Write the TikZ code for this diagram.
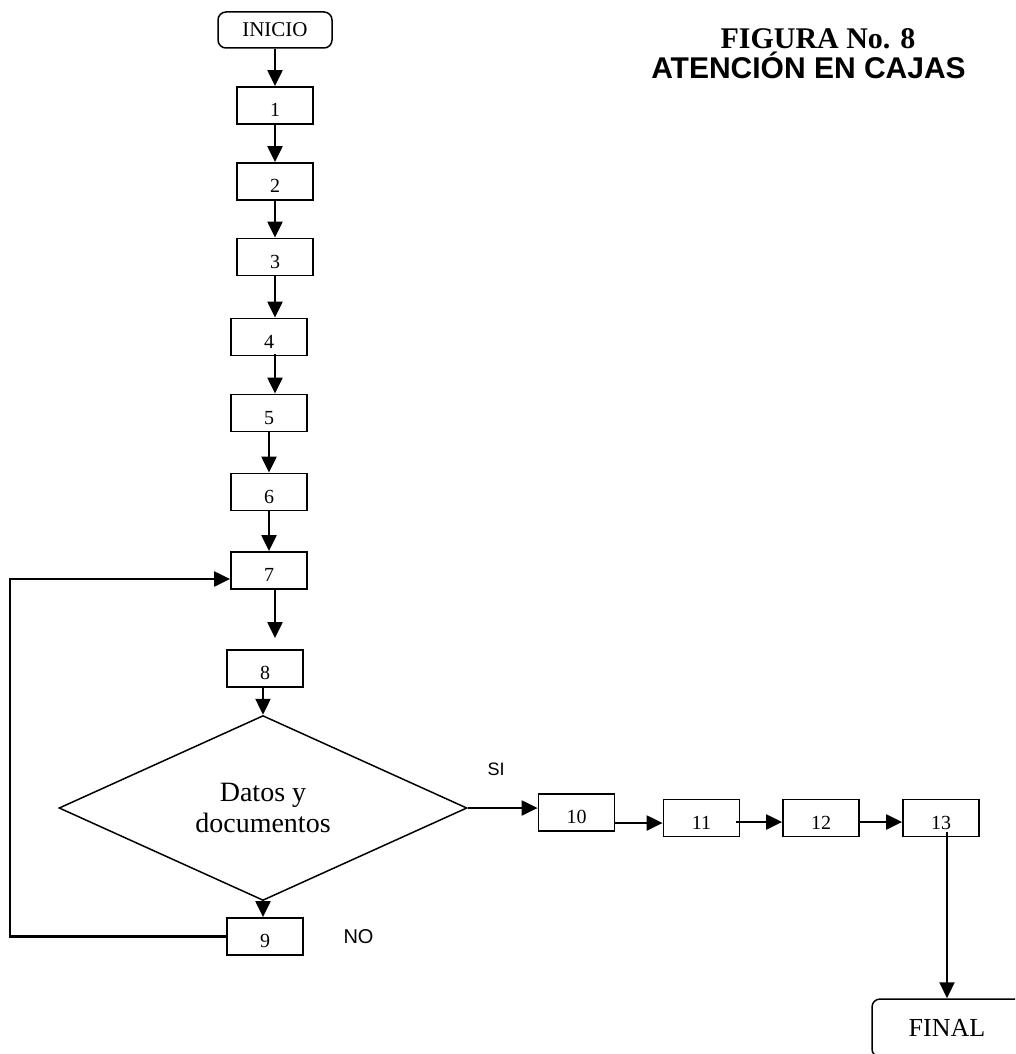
\documentclass[tikz,border=0pt]{standalone}
\usepackage{fontspec}
\setmainfont{Liberation Serif}
\newfontfamily\arial{Liberation Sans}
\usetikzlibrary{arrows.meta,shapes.geometric}

\tikzset{
  caja/.style={draw, line width=1.8pt, minimum width=76pt, minimum height=37pt,
    inner sep=0pt, font=\fontsize{20}{24}\selectfont, text height=22pt, text depth=0pt},
  terminal/.style={draw, line width=1.5pt, rounded corners=8pt, inner sep=0pt},
  decision/.style={draw, diamond, line width=1.5pt, minimum width=408pt,
    minimum height=144pt, inner sep=0pt, align=center, font=\fontsize{28}{31}\selectfont},
  flecha/.style={->, line width=2.2pt},
}

\begin{document}
\begin{tikzpicture}[x=1pt, y=-1pt, >={Triangle[length=16pt,width=15pt]}]
  \useasboundingbox (0,0) rectangle (1015,1054);
  \clip (0,0) rectangle (1015,1054);

  % titulo
  \node[anchor=base, font=\fontsize{30}{36}\selectfont\bfseries] (fig) at (818,49) {FIGURA No. 8};
  \node[anchor=base, font=\arial\fontsize{30}{36}\selectfont\bfseries] (tit) at (808.5,79) {ATENCIÓN EN CAJAS};

  \node[terminal, minimum width=114pt, minimum height=36pt, font=\fontsize{21}{25}\selectfont] (ini) at (275,30) {INICIO};
  \node[terminal, minimum width=150pt, minimum height=58pt, font=\fontsize{26}{30}\selectfont] (fin) at (947,1028) {FINAL};
  \node[decision] (dec) at (263,808) {Datos y\\documentos};

  \foreach \n/\x/\y in
  {
    1/275/105.5, 2/275/181.5, 3/275/257,
    4/269/337, 5/269/413, 6/269/492, 7/269/570.5,
    8/265/668.5, 9/265/936.5,
    10/576.5/812.5, 11/701.5/818, 12/821/818, 13/941/818%
  }
  {
    \node[caja] (b\n) at (\x,\y) {\n};
  }

  \node[anchor=base, font=\arial\fontsize{18}{22}\selectfont] (si) at (496,775) {SI};
  \node[anchor=base, font=\arial\fontsize{20}{24}\selectfont] (no) at (358.5,943) {NO};

  % columna
  \draw[flecha] (ini) -- (b1);
  \draw[flecha] (b1) -- (b2);
  \draw[flecha] (b2) -- (b3);
  \draw[flecha] (b3.south) -- ([xshift=6pt]b4.north);
  \draw[flecha] ([xshift=6pt,yshift=2pt]b4.south) -- ([xshift=6pt]b5.north);
  \draw[flecha] (b5) -- (b6);
  \draw[flecha] (b6) -- (b7);
  \draw[flecha] ([xshift=6pt]b7.south) -- ([xshift=10pt,yshift=11pt]b8.north);
  \draw[flecha] ([xshift=-2pt]b8.south) -- (dec.north);
  \draw[flecha] (dec.south) -- ([xshift=-2pt]b9.north);
  \draw[flecha] (b9.west) -- ++(-216,0) |- ([yshift=-8.5pt]b7.west);

  % fila
  \draw[flecha] (dec.east) -- ([yshift=4.5pt]b10.west);
  \draw[flecha] ([yshift=-10.5pt]b10.east) -- ([yshift=-5pt]b11.west);
  \draw[flecha] ([xshift=-4pt,yshift=-4pt]b11.east) -- ([yshift=-4pt]b12.west);
  \draw[flecha] ([xshift=-2pt,yshift=-4pt]b12.east) -- ([yshift=-4pt]b13.west);
  \draw[flecha] ([xshift=6pt,yshift=5pt]b13.south) -- (fin.north);
\end{tikzpicture}
\end{document}
